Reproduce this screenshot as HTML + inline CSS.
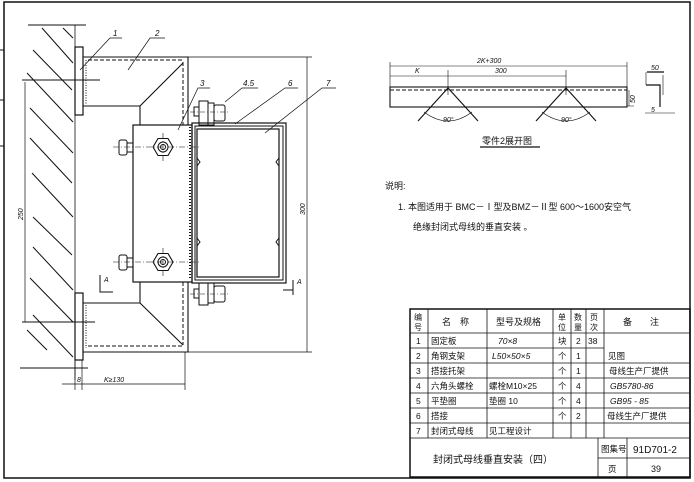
<!DOCTYPE html>
<html><head><meta charset="utf-8"><style>
html,body{margin:0;padding:0;background:#fff;}
svg{display:block;}
text{font-family:"Liberation Sans","Noto Sans CJK SC",sans-serif;fill:#111;}
</style></head><body>
<svg width="694" height="482" viewBox="0 0 694 482" xmlns="http://www.w3.org/2000/svg">
<g stroke="#111" fill="none" stroke-width="1">
<path d="M4 2H690V478H4Z" stroke-width="1.5"/>
<path d="M0 50H4M0 100H4M0 146H4" />
<g stroke-width="1">
<path d="M42 28L73 63M63 28L73 38M33 50L72 90M27 73L73 122M30 108L73 153M30 138L72 183M32 173L73 217M33 217L72 255M33 247L73 290M30 278L73 322M33 315L73 357M27 330L47 350"/>
</g>
<path d="M75 25V380" stroke-width="0.8"/>
<path d="M28 25H86M22 80H100M22 322H95M20 368H88"/>
<rect x="75" y="47" width="8" height="68" stroke-width="1.2"/>
<rect x="75" y="293" width="8" height="67" stroke-width="1.2"/>
<path d="M83 57H188V125M83 106H140V125M140 106L183 63" stroke-width="1.1"/>
<path d="M183 62V125M88 60H183" stroke-dasharray="4 2"/>
<path d="M86 60V105" stroke-dasharray="1 1.5"/>
<path d="M83 352H188V282M83 303H140V282M140 303L183 345" stroke-width="1.1"/>
<path d="M183 282V345M88 346H183" stroke-dasharray="4 2"/>
<path d="M86 305V348" stroke-dasharray="1 1.5"/>
<rect x="133" y="125" width="59" height="157" stroke-width="1.2"/>
<path d="M190 127V280" stroke-dasharray="1 2" stroke-width="2"/>
<polygon points="153,147 158,138.5 168,138.5 173,147 168,155.5 158,155.5" stroke-width="1.1"/>
<circle cx="163" cy="147" r="5"/><circle cx="163" cy="147" r="2.5"/>
<polygon points="153,262 158,253.5 168,253.5 173,262 168,270.5 158,270.5" stroke-width="1.1"/>
<circle cx="163" cy="262" r="5"/><circle cx="163" cy="262" r="2.5"/>
<rect x="119" y="140" width="8" height="15" rx="2"/><rect x="127" y="143" width="6" height="9"/>
<rect x="119" y="255" width="8" height="15" rx="2"/><rect x="127" y="258" width="6" height="9"/>
<path d="M113 147H200M163 133V161M113 262H200M163 248V276" stroke-dasharray="6 2 1 2" stroke-width="0.6"/>
<rect x="192" y="123" width="94" height="160" stroke-width="1.2"/>
<rect x="195" y="126" width="88" height="154"/>
<rect x="197" y="129" width="82" height="148" stroke-width="1.2"/>
<path d="M197 158l3 4-3 4M197 238l3 4-3 4M279 158l-3 4 3 4M279 238l-3 4 3 4"/>
<rect x="199" y="101" width="9" height="24"/><rect x="208" y="103" width="6" height="22"/><rect x="214" y="105" width="11" height="16" rx="2"/><rect x="194" y="107" width="5" height="9"/>
<rect x="199" y="283" width="9" height="22"/><rect x="208" y="283" width="6" height="20"/><rect x="214" y="286" width="11" height="16" rx="2"/><rect x="194" y="289" width="5" height="9"/>
<path d="M190 112H228M190 294H228" stroke-dasharray="5 2 1 2" stroke-width="0.6"/>
<path d="M80 70L110 38H122M128 70L150 38H165M178 130L198 88H210M225 102L242 88H258M235 124L285 88H298M265 133L322 88H336" stroke-width="0.7"/>
<path d="M188 57H312M188 352H312M307 57V352" stroke-width="0.7"/>
<path d="M25 82V322" stroke-width="0.7"/>
<path d="M62 384H185M75 360V390M82 360V390M185 352V390" stroke-width="0.7"/>
<path d="M100 275V292H113M293 290H283M293 280V295" stroke-width="1"/>
<rect x="390" y="87" width="237" height="20" stroke-width="1.1"/>
<path d="M390 90H627" stroke-dasharray="4 2"/>
<path d="M390 66H627M390 76H566M390 62V87M627 62V87M448 70V95M566 70V95" stroke-width="0.6"/>
<path d="M418 121L448 88L478 121M536 121L566 88L596 121" stroke-width="1.1"/>
<path d="M424 112Q448 130 472 112M542 112Q566 130 590 112" stroke-width="0.7"/>
<path d="M629 90V106M627 106H634" stroke-width="0.6"/>
<path d="M647 72H664M646 85H660V107" stroke-width="1.2"/>
<path d="M646 72V85M663 75V95M645 113H675" stroke-width="0.6"/>
<path d="M480 147H540" stroke-width="1.2"/>
<rect x="410" y="309" width="280" height="168" stroke-width="1.5"/>
<path d="M410 333H690M410 348H604M410 363H690M410 378H690M410 393H690M410 408H690M410 423H690M410 438H690" stroke-width="0.8"/>
<path d="M428 309V438M487 309V438M553 309V438M571 309V438M586 309V438M604 309V438" stroke-width="0.8"/>
<path d="M598 438V477M627 438V477M598 458H690" stroke-width="0.8"/>
</g>
<g font-size="8" font-style="italic">
<text x="113" y="36">1</text><text x="155" y="36">2</text><text x="200" y="86">3</text>
<text x="243" y="86">4.5</text><text x="288" y="86">6</text><text x="326" y="86">7</text>
<text x="104" y="282" font-size="7">A</text><text x="297" y="284" font-size="7">A</text>
<text x="77" y="382" font-size="7">8</text><text x="104" y="382" font-size="7">K≥130</text>
<text transform="translate(305 215) rotate(-90)" font-size="7">300</text>
<text transform="translate(23 220) rotate(-90)" font-size="7">250</text>
<text x="477" y="63" font-size="7">2K+300</text>
<text x="415" y="73" font-size="7">K</text><text x="495" y="73" font-size="7">300</text>
<text x="443" y="122" font-size="7">90°</text><text x="561" y="122" font-size="7">90°</text>
<text transform="translate(635 103) rotate(-90)" font-size="7">50</text>
<text x="651" y="70" font-size="7">50</text><text x="651" y="112" font-size="7">5</text>
</g>
<g font-size="9">
<text x="482" y="144" font-size="9">零件2展开图</text>
<text x="385" y="189">说明:</text>
<text x="398" y="210">1.  本图适用于 BMC－Ⅰ型及BMZ－Ⅱ型 600～1600安空气</text>
<text x="413" y="230">绝缘封闭式母线的垂直安装 。</text>
<text x="414" y="320" font-size="8">编</text><text x="414" y="330" font-size="8">号</text>
<text x="442" y="325">名　称</text><text x="496" y="325">型号及规格</text>
<text x="558" y="320" font-size="8">单</text><text x="558" y="330" font-size="8">位</text>
<text x="574" y="320" font-size="8">数</text><text x="574" y="330" font-size="8">量</text>
<text x="590" y="320" font-size="8">页</text><text x="590" y="330" font-size="8">次</text>
<text x="623" y="325">备　　注</text>
<g font-size="8.5">
<text x="416" y="344">1</text><text x="431" y="344">固定板</text><text x="498" y="344" font-style="italic">70×8</text><text x="558" y="344">块</text><text x="576" y="344">2</text><text x="588" y="344">38</text>
<text x="416" y="359">2</text><text x="431" y="359">角钢支架</text><text x="492" y="359" font-style="italic">L50×50×5</text><text x="558" y="359">个</text><text x="576" y="359">1</text><text x="608" y="359">见图</text>
<text x="416" y="374">3</text><text x="431" y="374">搭接托架</text><text x="558" y="374">个</text><text x="576" y="374">1</text><text x="609" y="374">母线生产厂提供</text>
<text x="416" y="389">4</text><text x="431" y="389">六角头螺栓</text><text x="489" y="389">螺栓M10×25</text><text x="558" y="389">个</text><text x="576" y="389">4</text><text x="610" y="389" font-style="italic">GB5780-86</text>
<text x="416" y="404">5</text><text x="431" y="404">平垫圈</text><text x="489" y="404">垫圈 10</text><text x="558" y="404">个</text><text x="576" y="404">4</text><text x="610" y="404" font-style="italic">GB95 - 85</text>
<text x="416" y="419">6</text><text x="431" y="419">搭接</text><text x="558" y="419">个</text><text x="576" y="419">2</text><text x="607" y="419">母线生产厂提供</text>
<text x="416" y="434">7</text><text x="431" y="434">封闭式母线</text><text x="489" y="434">见工程设计</text>
</g>
<text x="433" y="463" font-size="10">封闭式母线垂直安装（四）</text>
<text x="601" y="452" font-size="8.5">图集号</text><text x="633" y="453" font-size="10" font-family="Liberation Mono">91D701-2</text>
<text x="608" y="472" font-size="8.5">页</text><text x="651" y="472" font-size="9">39</text>
</g>
</svg>
</body></html>
